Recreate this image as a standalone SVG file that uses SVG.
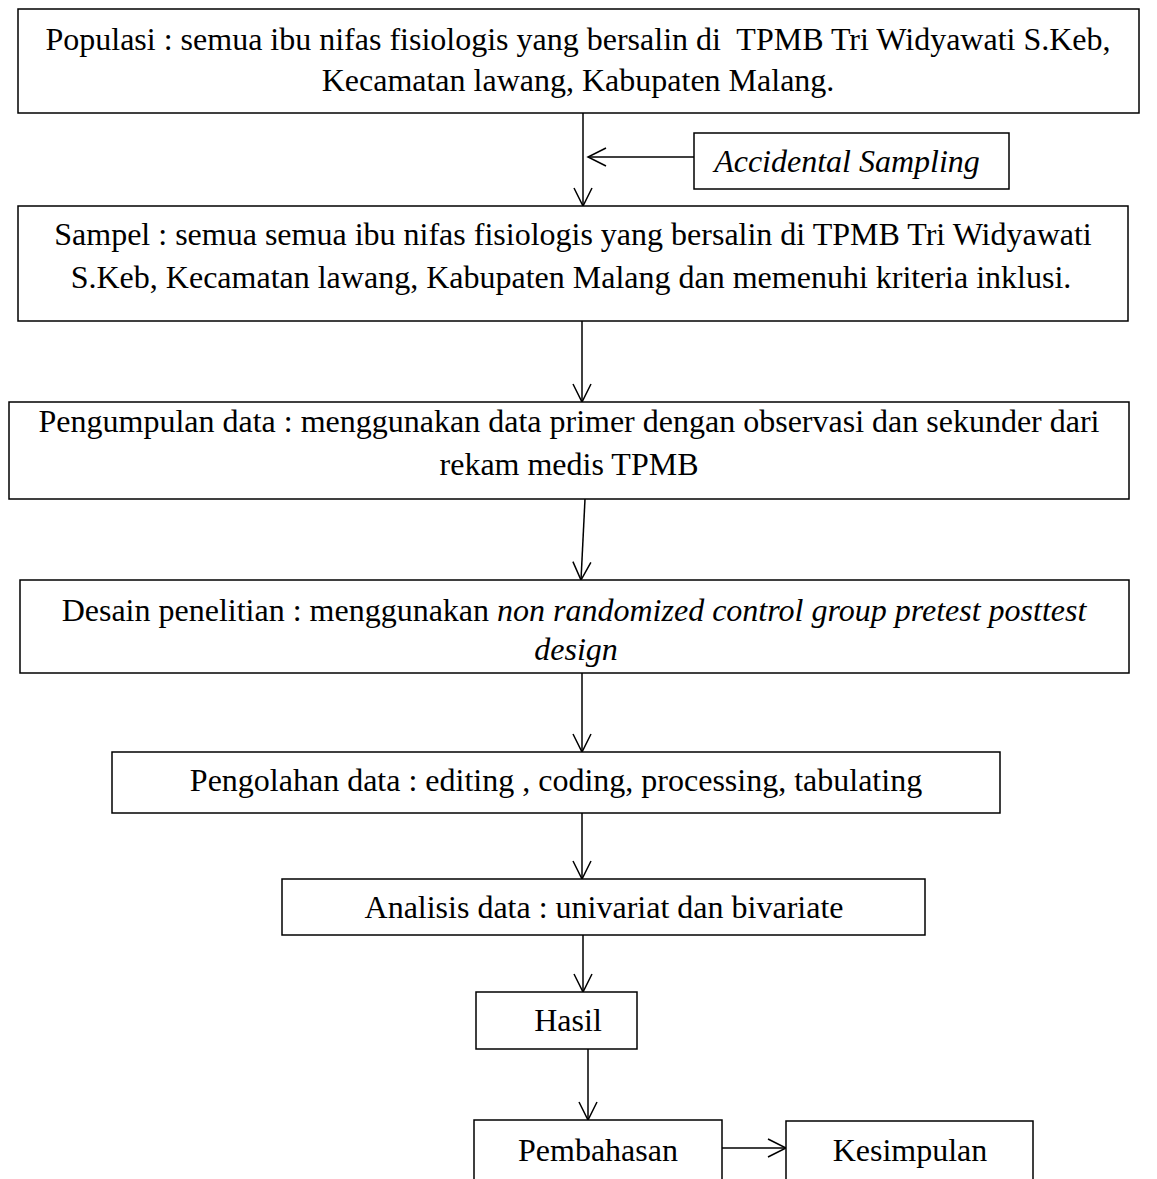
<svg xmlns="http://www.w3.org/2000/svg" width="1157" height="1179" viewBox="0 0 1157 1179">
<style>
.box{fill:#fff;stroke:#000;stroke-width:1.5}
.t{font-family:"Liberation Serif","Times New Roman",serif;font-size:32px;fill:#000;text-anchor:middle;white-space:pre}
.i{font-style:italic}
.c{fill:none;stroke:#000;stroke-width:1.5}
</style>
<defs>
<marker id="arr" viewBox="-20 -11 22 22" markerWidth="22" markerHeight="22" refX="0" refY="0" orient="auto" markerUnits="userSpaceOnUse">
<path d="M-18,-9 L0,0 L-18,9" fill="none" stroke="#000" stroke-width="1.5"/>
</marker>
<clipPath id="clip4"><rect x="20" y="580" width="1109" height="93"/></clipPath>
</defs>
<rect width="1157" height="1179" fill="#fff"/>
<g id="connectors">
<line class="c" x1="583" y1="113" x2="583" y2="206" marker-end="url(#arr)"/>
<line class="c" x1="694" y1="157" x2="588" y2="157" marker-end="url(#arr)"/>
<line class="c" x1="582" y1="321" x2="582" y2="402" marker-end="url(#arr)"/>
<line class="c" x1="585" y1="499" x2="581" y2="580" marker-end="url(#arr)"/>
<line class="c" x1="582" y1="673" x2="582" y2="752" marker-end="url(#arr)"/>
<line class="c" x1="582" y1="813" x2="582" y2="879" marker-end="url(#arr)"/>
<line class="c" x1="583" y1="935" x2="583" y2="992" marker-end="url(#arr)"/>
<line class="c" x1="588" y1="1049" x2="588" y2="1120" marker-end="url(#arr)"/>
<line class="c" x1="722" y1="1148" x2="786" y2="1148" marker-end="url(#arr)"/>
</g>
<g id="populasi">
<rect class="box" x="18" y="9" width="1121" height="104"/>
<text class="t" x="578" y="50">Populasi : semua ibu nifas fisiologis yang bersalin di  TPMB Tri Widyawati S.Keb,</text>
<text class="t" x="578" y="91">Kecamatan lawang, Kabupaten Malang.</text>
</g>
<g id="accidental">
<rect class="box" x="694" y="133" width="315" height="56"/>
<text class="t i" x="847" y="172">Accidental Sampling</text>
</g>
<g id="sampel">
<rect class="box" x="18" y="206" width="1110" height="115"/>
<text class="t" x="573" y="245">Sampel : semua semua ibu nifas fisiologis yang bersalin di TPMB Tri Widyawati</text>
<text class="t" x="571" y="288">S.Keb, Kecamatan lawang, Kabupaten Malang dan memenuhi kriteria inklusi.</text>
</g>
<g id="pengumpulan">
<rect class="box" x="9" y="402" width="1120" height="97"/>
<text class="t" x="569" y="432">Pengumpulan data : menggunakan data primer dengan observasi dan sekunder dari</text>
<text class="t" x="569" y="475">rekam medis TPMB</text>
</g>
<g id="desain">
<rect class="box" x="20" y="580" width="1109" height="93"/>
<text class="t" x="574" y="621">Desain penelitian : menggunakan <tspan class="i">non randomized control group pretest posttest</tspan></text>
<text class="t i" x="576" y="660" clip-path="url(#clip4)">design</text>
</g>
<g id="pengolahan">
<rect class="box" x="112" y="752" width="888" height="61"/>
<text class="t" x="556" y="791">Pengolahan data : editing , coding, processing, tabulating</text>
</g>
<g id="analisis">
<rect class="box" x="282" y="879" width="643" height="56"/>
<text class="t" x="604" y="918">Analisis data : univariat dan bivariate</text>
</g>
<g id="hasil">
<rect class="box" x="476" y="992" width="161" height="57"/>
<text class="t" x="568" y="1031">Hasil</text>
</g>
<g id="pembahasan">
<rect class="box" x="474" y="1120" width="248" height="70"/>
<text class="t" x="598" y="1161">Pembahasan</text>
</g>
<g id="kesimpulan">
<rect class="box" x="786" y="1121" width="247" height="70"/>
<text class="t" x="910" y="1161">Kesimpulan</text>
</g>
</svg>
